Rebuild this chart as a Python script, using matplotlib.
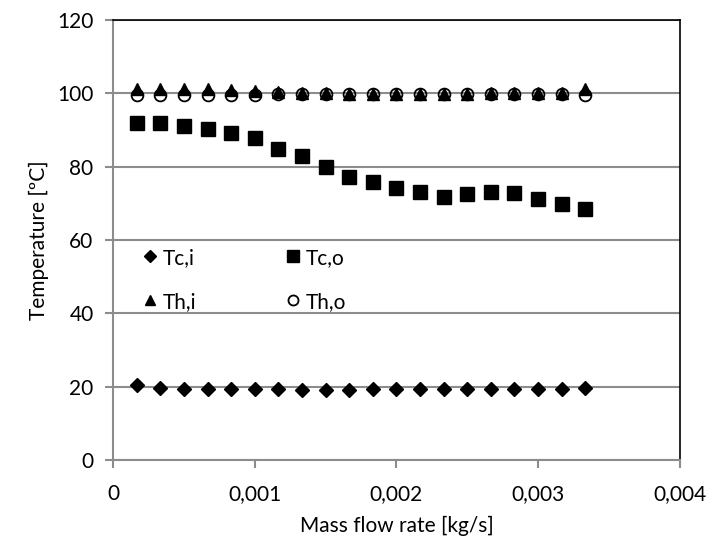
import matplotlib.pyplot as plt
import numpy as np

plt.rcParams['font.family'] = ['Lato', 'DejaVu Sans']

# mass flow rate [kg/s]
flow = [0.000167, 0.000333, 0.0005, 0.000667, 0.000833, 0.001, 0.001167, 0.001333,
        0.0015, 0.001667, 0.001833, 0.002, 0.002167, 0.002333, 0.0025, 0.002667,
        0.002833, 0.003, 0.003167, 0.003333]

tc_i = [20.5, 19.5, 19.4, 19.4, 19.3, 19.3, 19.3, 19.2, 19.2, 19.2,
        19.3, 19.3, 19.3, 19.3, 19.3, 19.3, 19.3, 19.3, 19.4, 19.5]
tc_o = [92.0, 92.0, 91.1, 90.3, 89.1, 87.9, 84.7, 82.8, 79.8, 77.1,
        75.8, 74.1, 73.2, 71.8, 72.4, 73.0, 72.9, 71.3, 69.9, 68.4]
th_i = [101.3, 101.3, 101.2, 101.1, 101.0, 100.7, 100.4, 100.2, 100.0, 99.9,
        99.9, 99.9, 99.9, 99.9, 99.9, 100.0, 100.0, 100.1, 100.1, 101.1]
th_o = [99.6, 99.6, 99.6, 99.6, 99.6, 99.6, 99.7, 99.7, 99.7, 99.7,
        99.7, 99.7, 99.7, 99.7, 99.7, 99.7, 99.7, 99.7, 99.7, 99.6]

xticks = [0, 0.001, 0.002, 0.003, 0.004]
xlabels = ['0', '0,001', '0,002', '0,003', '0,004']
yticks = [0, 20, 40, 60, 80, 100, 120]

fig = plt.figure(figsize=(7.11, 5.48), dpi=100)
ax = fig.add_axes([0.159, 0.1606, 0.797, 0.803])

l1, = ax.plot(flow, tc_i, ls='none', marker='D', ms=7.5, color='black', label='Tc,i')
l2, = ax.plot(flow, tc_o, ls='none', marker='s', ms=9.5, color='black', label='Tc,o')
l3, = ax.plot(flow, th_i, ls='none', marker='^', ms=9, color='black', label='Th,i')
l4, = ax.plot(flow, th_o, ls='none', marker='o', ms=8.5, color='black',
              markerfacecolor='none', mew=1.3, label='Th,o')

ax.set_xlim(0, 0.004)
ax.set_ylim(0, 120)
ax.set_xticks(xticks)
ax.set_xticklabels(xlabels)
ax.set_yticks(yticks)
ax.yaxis.grid(True, color='#8c8c8c', lw=1.5)
ax.set_axisbelow(True)

for s in ['left', 'bottom']:
    ax.spines[s].set_color('#8c8c8c')
    ax.spines[s].set_linewidth(1.5)
for s in ['top', 'right']:
    ax.spines[s].set_color('black')
    ax.spines[s].set_linewidth(1.2)
ax.tick_params(direction='out', length=6, width=1.5, color='#8c8c8c',
               labelsize=15, pad=11)
ax.tick_params(axis='y', pad=8)

ax.set_xlabel('Mass flow rate [kg/s]', fontsize=15, labelpad=9)
ax.set_ylabel('Temperature [ºC]', fontsize=15, labelpad=6)

# column-wise fill, so order gives rows Tc,i / Tc,o and Th,i / Th,o
ax.legend([l1, l3, l2, l4], ['Tc,i', 'Th,i', 'Tc,o', 'Th,o'],
          ncol=2, loc='upper left', bbox_to_anchor=(0.02, 0.525), frameon=False,
          fontsize=15, markerscale=0.85, handlelength=0.7, handletextpad=0.25,
          columnspacing=4.3, labelspacing=1.15)

fig.savefig('out.png', dpi=100)
